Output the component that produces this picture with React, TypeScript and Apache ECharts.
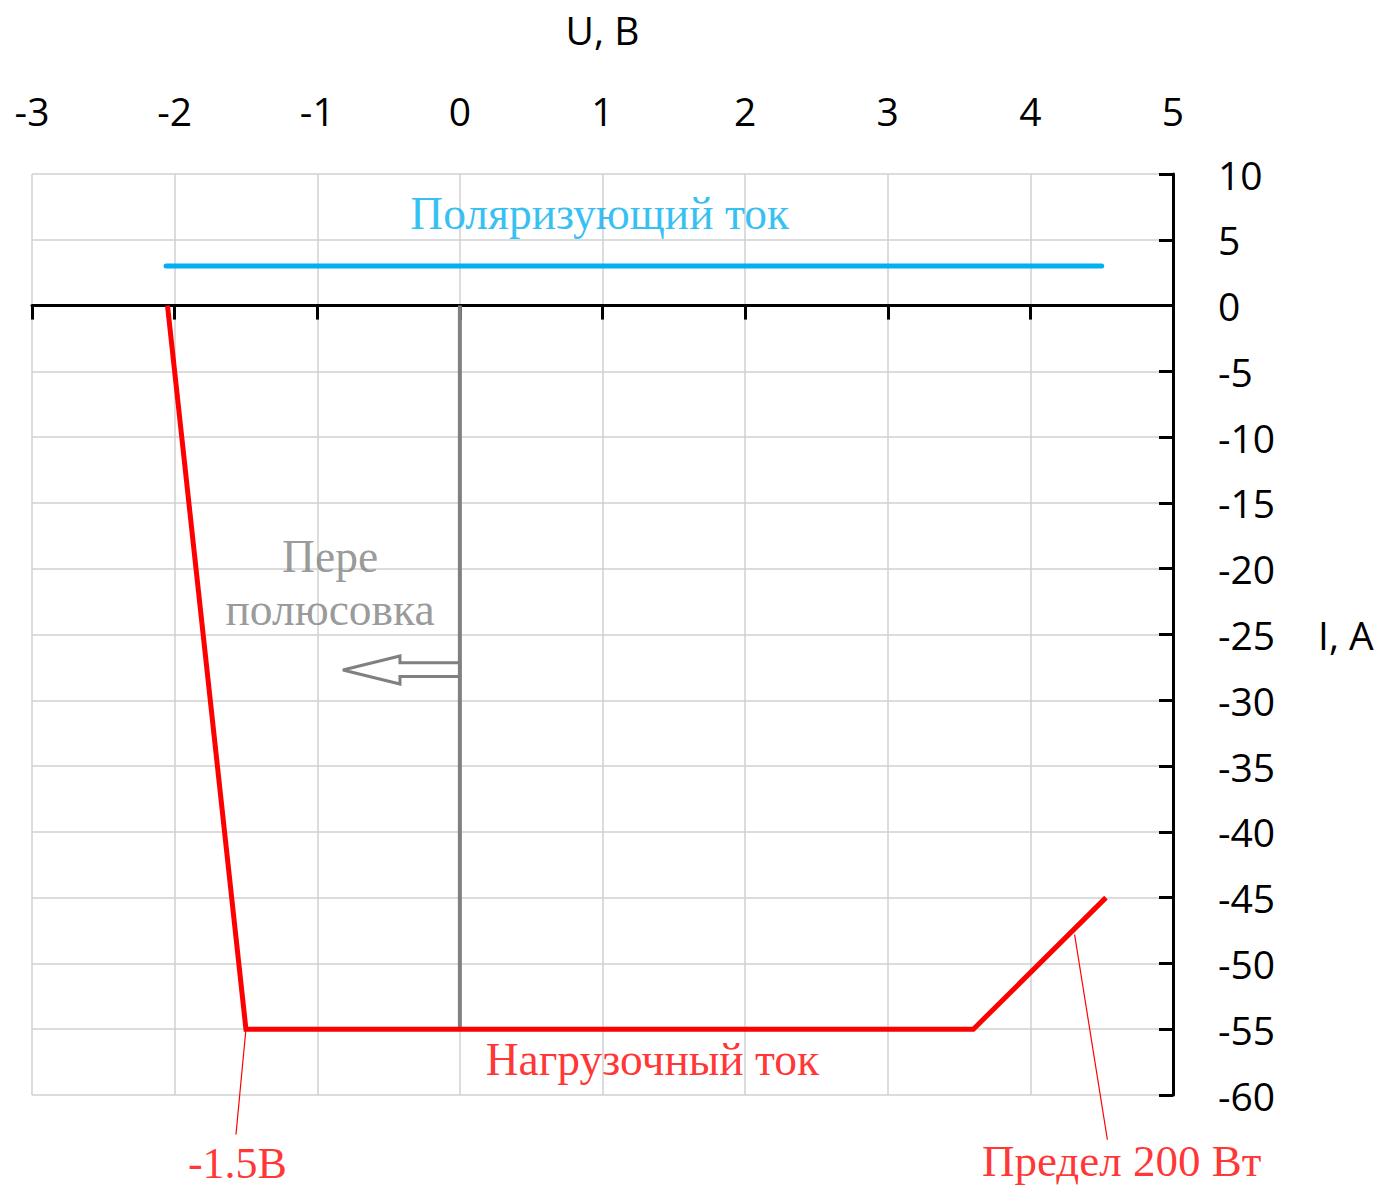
import React, { useEffect, useRef } from "react";
import * as echarts from "echarts";

// ---- data ----
const xMin = -3;
const xMax = 5;
const xStep = 1;
const yMin = -60;
const yMax = 10;
const yStep = 5;

// polarizing current (blue)
const polarizingCurrent: [number, number][] = [
  [-2.06, 3],
  [4.5, 3],
];
// load current (red)
const loadCurrent: [number, number][] = [
  [-2.05, 0],
  [-1.5, -55],
  [3.6, -55],
  [4.53, -45],
];
// polarity reversal line (grey)
const reversalLine: [number, number][] = [
  [0, 0],
  [0, -55],
];
// leader lines for the callouts
const leaderMinus15: [number, number][] = [
  [-1.5, -55],
  [-1.57, -63],
];
const leader200W: [number, number][] = [
  [4.31, -47.8],
  [4.54, -63.4],
];
// outline arrow pointing left (data coords)
const arrowOutline: [number, number][] = [
  [-0.82, -27.7],
  [-0.42, -26.63],
  [-0.42, -27.14],
  [0, -27.14],
  [0, -28.2],
  [-0.42, -28.2],
  [-0.42, -28.76],
];
// annotation texts and their anchor points (data coords)
const noteTexts = ["Поляризующий ток", "Пере\nполюсовка", "Нагрузочный ток", "-1.5В", "Предел 200 Вт"];
const noteX = [0.98, -0.91, 1.35, -1.56, 4.64];
const noteY = [7.0, -21.1, -57.3, -65.2, -65.05];

const xName = "U, B";
const yName = "I, A";

// ---- styles ----
const BLUE = "#00B0F0";
const RED = "#FF0000";
const GREY = "#808080";
const noteColors = [BLUE, GREY, RED, RED, RED];
const noteSizes = [45.5, 45.5, 45.5, 44, 45];
const SANS = "Open Sans";
const SERIF = "Liberation Serif";

export default function App() {
  const ref = useRef<HTMLDivElement>(null);

  useEffect(() => {
    if (!ref.current) return;
    const chart = echarts.init(ref.current, undefined, { renderer: "svg" });

    const gridLine = { show: true, lineStyle: { color: "#D0D0D0", width: 1.5 } };
    const axisLabelStyle = { color: "#000", fontSize: 39, fontFamily: SANS };

    const option: any = {
      animation: false,
      backgroundColor: "#fff",
      textStyle: { fontFamily: SANS },
      grid: { left: 32, right: 205, top: 174, bottom: 92, containLabel: false },
      xAxis: [
        {
          type: "value",
          min: xMin,
          max: xMax,
          interval: xStep,
          position: "top",
          axisLine: { show: false, onZero: false },
          axisTick: { show: false },
          splitLine: { show: false },
          axisLabel: { ...axisLabelStyle, margin: 44 },
          name: xName,
          nameLocation: "middle",
          nameGap: 125,
          nameTextStyle: { color: "#000", fontSize: 39, fontFamily: SANS },
        },
        {
          type: "value",
          min: xMin,
          max: xMax,
          interval: xStep,
          position: "bottom",
          axisLine: { show: true, onZero: true, lineStyle: { color: "#000", width: 3 } },
          axisTick: { show: true, length: 14, lineStyle: { color: "#000", width: 3 } },
          axisLabel: { show: false },
          splitLine: gridLine,
        },
      ],
      yAxis: {
        type: "value",
        min: yMin,
        max: yMax,
        interval: yStep,
        position: "right",
        axisLine: { show: true, onZero: false, lineStyle: { color: "#000", width: 3 } },
        axisTick: { show: true, inside: true, length: 14, lineStyle: { color: "#000", width: 3 } },
        axisLabel: { ...axisLabelStyle, margin: 45, align: "left", padding: [0, 0, 8, 0] },
        splitLine: gridLine,
        name: yName,
        nameLocation: "middle",
        nameRotate: 0,
        nameGap: 145,
        nameTextStyle: { color: "#000", fontSize: 39, fontFamily: SANS },
      },
      series: [
        {
          type: "line",
          xAxisIndex: 1,
          data: reversalLine,
          symbol: "none",
          lineStyle: { color: GREY, width: 4 },
          z: 2,
        },
        {
          type: "custom",
          xAxisIndex: 1,
          data: [arrowOutline[0]],
          renderItem: (_params: any, api: any) => ({
            type: "polygon",
            shape: { points: arrowOutline.map((p) => api.coord(p)) },
            style: { fill: "none", stroke: GREY, lineWidth: 3 },
          }),
          z: 3,
        },
        {
          type: "line",
          xAxisIndex: 1,
          data: polarizingCurrent,
          symbol: "none",
          lineStyle: { color: BLUE, width: 5, cap: "round" },
          z: 4,
        },
        {
          type: "line",
          xAxisIndex: 1,
          data: loadCurrent,
          symbol: "none",
          lineStyle: { color: RED, width: 5, join: "miter" },
          z: 5,
        },
        {
          type: "line",
          xAxisIndex: 1,
          data: leaderMinus15,
          symbol: "none",
          clip: false,
          lineStyle: { color: RED, width: 1.2 },
          z: 5,
        },
        {
          type: "line",
          xAxisIndex: 1,
          data: leader200W,
          symbol: "none",
          clip: false,
          lineStyle: { color: RED, width: 1.2 },
          z: 5,
        },
        {
          type: "scatter",
          xAxisIndex: 1,
          symbolSize: 0,
          clip: false,
          silent: true,
          z: 6,
          data: noteTexts.map((t, i) => ({
            value: [noteX[i], noteY[i]],
            label: {
              show: true,
              position: "inside",
              formatter: t,
              color: noteColors[i],
              fontFamily: SERIF,
              fontSize: noteSizes[i],
              lineHeight: t.includes("\n") ? 53 : noteSizes[i],
              align: "center",
              verticalAlign: "middle",
            },
          })),
        },
      ],
    };

    chart.setOption(option);
    return () => chart.dispose();
  }, []);

  return (
    <div
      ref={ref}
      style={{ position: "fixed", left: 0, top: 0, width: 1378, height: 1187, background: "#fff" }}
    />
  );
}
